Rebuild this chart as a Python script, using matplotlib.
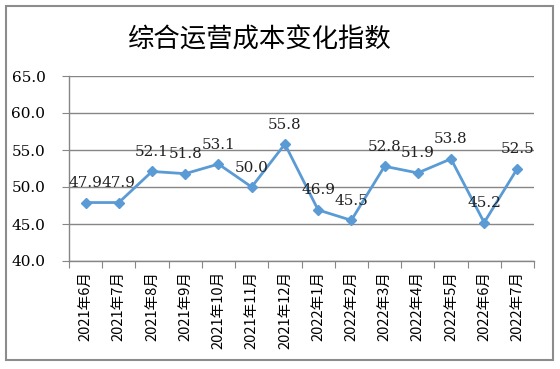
import matplotlib
matplotlib.use("Agg")
import matplotlib.pyplot as plt
from matplotlib.patches import Rectangle
import numpy as np

plt.rcParams['font.family'] = ['Noto Sans CJK SC', 'DejaVu Sans']

# data
months = ["2021年6月", "2021年7月", "2021年8月", "2021年9月", "2021年10月",
          "2021年11月", "2021年12月", "2022年1月", "2022年2月", "2022年3月",
          "2022年4月", "2022年5月", "2022年6月", "2022年7月"]
values = [47.9, 47.9, 52.1, 51.8, 53.1, 50.0, 55.8, 46.9, 45.5, 52.8,
          51.9, 53.8, 45.2, 52.5]
yticks = [40.0, 45.0, 50.0, 55.0, 60.0, 65.0]
title = "综合运营成本变化指数"

line_color = "#5B9BD5"
grid_color = "#868686"

fig = plt.figure(figsize=(5.6, 3.69), dpi=100)
# outer chart border
fig.patches.append(Rectangle((6 / 560, 1 - 360 / 369), 547 / 560, 354 / 369,
                             transform=fig.transFigure, fill=False,
                             edgecolor="#8c8c8c", linewidth=1.5))

ax = fig.add_axes([69 / 560, 1 - 261 / 369, 465 / 560, 185 / 369])
x = np.arange(len(months))
ax.plot(x, values, color=line_color, linewidth=2, marker="D", markersize=5.5,
        zorder=3)

for xi, v in zip(x, values):
    ax.annotate(f"{v:.1f}", (xi, v), xytext=(0, 14), textcoords="offset points",
                ha="center", va="center", fontsize=11, family="DejaVu Serif",
                color="#222222", zorder=4)

ax.set_xlim(-0.5, len(months) - 0.5)
ax.set_ylim(40, 65)
ax.set_yticks(yticks)
ax.set_yticklabels([f"{t:.1f}" for t in yticks], family="DejaVu Serif",
                   fontsize=11)
ax.yaxis.grid(True, color=grid_color, linewidth=1)
ax.set_axisbelow(True)

ax.set_xticks(np.arange(len(months) + 1) - 0.5)
ax.set_xticklabels([])
ax.set_xticks(x, minor=True)
ax.set_xticklabels(months, minor=True, rotation=90, fontsize=10.5, va="top")
ax.tick_params(axis="x", which="major", length=5, color=grid_color,
               direction="out")
ax.tick_params(axis="x", which="minor", length=0, pad=7)
ax.tick_params(axis="y", length=5, color=grid_color, pad=12)

for s in ["top", "right"]:
    ax.spines[s].set_visible(False)
for s in ["left", "bottom"]:
    ax.spines[s].set_color(grid_color)
    ax.spines[s].set_linewidth(1)

fig.text(260 / 560, 1 - 40 / 369, title, ha="center", va="center",
         fontsize=19)

fig.savefig("out.png", dpi=100)
